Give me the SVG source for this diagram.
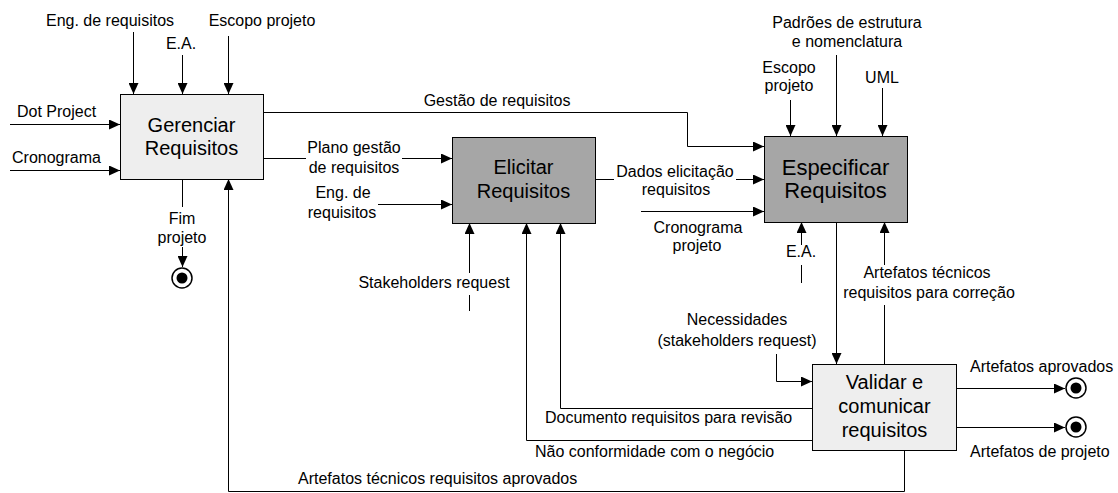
<svg xmlns="http://www.w3.org/2000/svg" width="1118" height="493" viewBox="0 0 1118 493">
<style>
text{font-family:"Liberation Sans",Arial,sans-serif;fill:#000}
.l{font-size:16px}
.c{text-anchor:middle}
.t{font-size:20px;text-anchor:middle}
.t2{font-size:22px;text-anchor:middle}
.conn path{fill:none;stroke:#000;stroke-width:1}
.light{fill:#EEEEEE;stroke:#000;stroke-width:1}
.dark{fill:#A6A6A6;stroke:#000;stroke-width:1}
.end circle.o{fill:#fff;stroke:#000;stroke-width:1.5}
.end circle.i{fill:#000}
</style>
<defs>
<marker id="a" markerUnits="userSpaceOnUse" markerWidth="11" markerHeight="10" refX="11" refY="5" orient="auto">
<path d="M0,0 L11,5 L0,10 z" fill="#000"/>
</marker>
</defs>
<g id="gerenciar">
<rect class="light" x="120.5" y="94.5" width="143" height="85"/>
<text class="t" x="191.5" y="132">Gerenciar</text>
<text class="t" x="191.5" y="155">Requisitos</text>
</g>
<g id="elicitar">
<rect class="dark" x="452.5" y="137.5" width="143" height="86"/>
<text class="t" x="523.5" y="174">Elicitar</text>
<text class="t" x="523.5" y="198">Requisitos</text>
</g>
<g id="especificar">
<rect class="dark" x="764.5" y="136.5" width="143" height="86"/>
<text class="t2" x="835.5" y="175">Especificar</text>
<text class="t2" x="835.5" y="198">Requisitos</text>
</g>
<g id="validar">
<rect class="light" x="812.5" y="364.5" width="144" height="86"/>
<text class="t" x="884.5" y="389">Validar e</text>
<text class="t" x="884.5" y="413">comunicar</text>
<text class="t" x="884.5" y="437">requisitos</text>
</g>
<g id="fim" class="end">
<circle class="o" cx="182" cy="278" r="10"/>
<circle class="i" cx="182" cy="278" r="5.5"/>
</g>
<g id="fim-aprovados" class="end">
<circle class="o" cx="1076" cy="388" r="10"/>
<circle class="i" cx="1076" cy="388" r="5.5"/>
</g>
<g id="fim-projeto" class="end">
<circle class="o" cx="1076" cy="427" r="10"/>
<circle class="i" cx="1076" cy="427" r="5.5"/>
</g>
<g id="connectors" class="conn">
<path d="M133.5,32 V94" marker-end="url(#a)"/>
<path d="M182.5,55 V94" marker-end="url(#a)"/>
<path d="M228.5,36 V94" marker-end="url(#a)"/>
<path d="M10,124.5 H120" marker-end="url(#a)"/>
<path d="M10,170.5 H120" marker-end="url(#a)"/>
<path d="M182.5,179 V207"/>
<path d="M182.5,247 V267" marker-end="url(#a)"/>
<path d="M263,112.5 H687.5 V146.5 H764" marker-end="url(#a)"/>
<path d="M263,158.5 H306"/>
<path d="M402,158.5 H452" marker-end="url(#a)"/>
<path d="M378,204.5 H452" marker-end="url(#a)"/>
<path d="M469.5,311 V295"/>
<path d="M469.5,273 V223" marker-end="url(#a)"/>
<path d="M595,179.5 H614"/>
<path d="M736,179.5 H764" marker-end="url(#a)"/>
<path d="M641,211.5 H764" marker-end="url(#a)"/>
<path d="M790.5,100 V136" marker-end="url(#a)"/>
<path d="M836.5,55 V136" marker-end="url(#a)"/>
<path d="M882.5,88 V136" marker-end="url(#a)"/>
<path d="M801.5,283 V265"/>
<path d="M801.5,245 V222" marker-end="url(#a)"/>
<path d="M836.5,222 V364" marker-end="url(#a)"/>
<path d="M884.5,364 V305"/>
<path d="M884.5,265 V222" marker-end="url(#a)"/>
<path d="M776.5,354 V381.5 H812" marker-end="url(#a)"/>
<path d="M956,388.5 H1065" marker-end="url(#a)"/>
<path d="M956,427.5 H1065" marker-end="url(#a)"/>
<path d="M812,408.5 H560.5 V223" marker-end="url(#a)"/>
<path d="M812,440.5 H526.5 V223" marker-end="url(#a)"/>
<path d="M904.5,451 V491.5 H228.5 V179" marker-end="url(#a)"/>
</g>
<g id="labels" class="l">
<text class="c" x="110" y="26">Eng. de requisitos</text>
<text class="c" x="181" y="49">E.A.</text>
<text class="c" x="262" y="26">Escopo projeto</text>
<text x="17" y="117">Dot Project</text>
<text x="12" y="163">Cronograma</text>
<text class="c" x="182" y="224">Fim</text>
<text class="c" x="182" y="243">projeto</text>
<text class="c" x="497" y="106">Gestão de requisitos</text>
<text class="c" x="354" y="153">Plano gestão</text>
<text class="c" x="354" y="173">de requisitos</text>
<text class="c" x="343" y="198">Eng. de</text>
<text class="c" x="342" y="218">requisitos</text>
<text class="c" x="434" y="288">Stakeholders request</text>
<text class="c" x="675" y="177">Dados elicitação</text>
<text class="c" x="676" y="195">requisitos</text>
<text class="c" x="698" y="233">Cronograma</text>
<text class="c" x="697" y="251">projeto</text>
<text class="c" x="847" y="28">Padrões de estrutura</text>
<text class="c" x="847" y="47">e nomenclatura</text>
<text class="c" x="789" y="73">Escopo</text>
<text class="c" x="789" y="91">projeto</text>
<text class="c" x="882" y="83">UML</text>
<text class="c" x="801" y="257">E.A.</text>
<text class="c" x="927" y="278">Artefatos técnicos</text>
<text class="c" x="929" y="298">requisitos para correção</text>
<text class="c" x="737" y="325">Necessidades</text>
<text class="c" x="737" y="346">(stakeholders request)</text>
<text x="970" y="372">Artefatos aprovados</text>
<text x="970" y="457">Artefatos de projeto</text>
<text x="545" y="423">Documento requisitos para revisão</text>
<text x="535" y="457">Não conformidade com o negócio</text>
<text x="298" y="484">Artefatos técnicos requisitos aprovados</text>
</g>
</svg>
